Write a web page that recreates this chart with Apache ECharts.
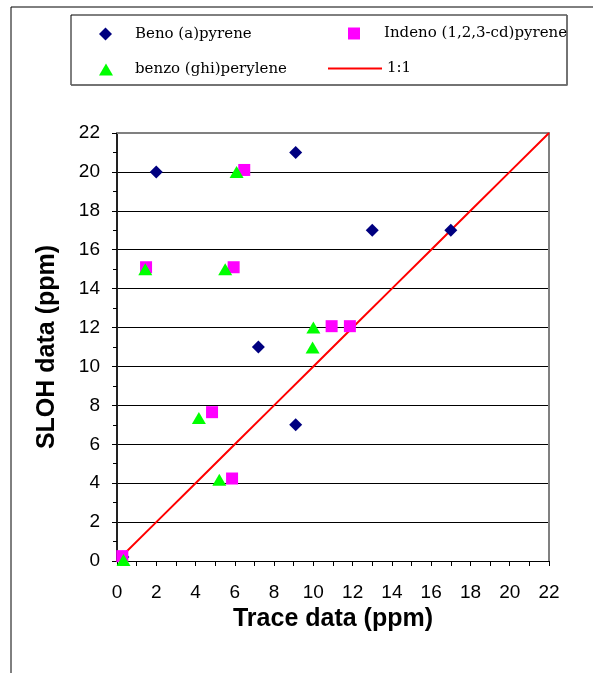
<!DOCTYPE html>
<html><head><meta charset="utf-8">
<script src="https://cdn.jsdelivr.net/npm/echarts@6/dist/echarts.min.js"></script>
<style>html,body{margin:0;padding:0;background:#fff}#c{width:593px;height:673px}</style>
</head><body><div id="c"></div>
<script>
// Data
const benoName = 'Beno (a)pyrene';
const indenoName = 'Indeno (1,2,3-cd)pyrene';
const benzoName = 'benzo (ghi)perylene';
const lineName = '1:1';

const benoX = [0.3, 2, 9.1, 7.2, 9.1, 13, 17];
const benoY = [0.2, 20, 21, 11, 7, 17, 17];

const indenoX = [0.27, 1.48, 6.48, 5.94, 4.84, 5.86, 10.93, 11.86];
const indenoY = [0.25, 15.1, 20.1, 15.1, 7.65, 4.24, 12.07, 12.07];

const benzoX = [0.33, 1.44, 6.09, 5.51, 10, 9.96, 4.17, 5.21];
const benzoY = [0.05, 15, 20, 15, 12, 10.97, 7.35, 4.17];

const lineX = [0, 2, 4, 6, 8, 10, 12, 14, 16, 18, 20, 22];
const lineY = [0, 2, 4, 6, 8, 10, 12, 14, 16, 18, 20, 22];

const axisMin = 0, axisMax = 22, axisStep = 2;

const zip = (xs, ys) => xs.map((x, i) => [x, ys[i]]);

const chart = echarts.init(document.getElementById('c'), null, {renderer: 'canvas'});

const legendText = {fontFamily: 'DejaVu Serif', fontSize: 15, color: '#000'};
function mkLegend(name, left, top, w, h, padLeft, icon) {
  const item = icon ? {name: name, icon: icon} : name;
  return {
    data: [item], left: left, top: top, orient: 'horizontal',
    itemWidth: w, itemHeight: h, padding: 0, itemGap: 0,
    selectedMode: false,
    textStyle: Object.assign({}, legendText, {padding: [0, 0, 0, padLeft]})
  };
}

const baseAxis = {
  type: 'value', min: axisMin, max: axisMax, interval: axisStep,
  axisLine: {show: true, onZero: false, lineStyle: {color: '#000', width: 1}},
  axisTick: {show: true, inside: false, length: 5, lineStyle: {color: '#000'}},
  minorTick: {show: true, splitNumber: 2, length: 5, lineStyle: {color: '#000'}},
  axisLabel: {fontFamily: 'Liberation Sans', fontSize: 19, color: '#000'},
  nameLocation: 'middle',
  nameTextStyle: {fontFamily: 'Liberation Sans', fontSize: 25, fontWeight: 'bold', color: '#000'}
};
const borderAxis = {
  type: 'value', min: axisMin, max: axisMax, interval: axisStep,
  axisLine: {show: true, onZero: false, lineStyle: {color: '#808080', width: 2}},
  axisTick: {show: false}, axisLabel: {show: false}, splitLine: {show: false}
};

chart.setOption({
  animation: false,
  backgroundColor: '#fff',
  grid: {left: 117, top: 133, width: 432, height: 428},
  graphic: [
    {type: 'line', shape: {x1: 11, y1: 7, x2: 593, y2: 7}, style: {stroke: '#000', lineWidth: 1}},
    {type: 'line', shape: {x1: 11, y1: 7, x2: 11, y2: 673}, style: {stroke: '#000', lineWidth: 1}},
    {type: 'rect', shape: {x: 71, y: 15, width: 496, height: 70}, style: {fill: '#fff', stroke: '#000', lineWidth: 1}},
    {type: 'polyline', shape: {points: [[567, 15], [567, 85], [71, 85]]}, style: {stroke: '#707070', lineWidth: 1.5, fill: null}}
  ],
  legend: [
    mkLegend(benoName, 99, 26.5, 13, 13, 18),
    mkLegend(indenoName, 348, 26, 12, 12, 19),
    mkLegend(benzoName, 99, 62, 14, 12, 17),
    mkLegend(lineName, 328, 61, 54, 2, 0, 'rect')
  ],
  xAxis: [
    Object.assign({}, baseAxis, {
      position: 'bottom',
      splitLine: {show: false},
      axisLabel: Object.assign({}, baseAxis.axisLabel, {margin: 22}),
      name: 'Trace data (ppm)', nameGap: 43
    }),
    Object.assign({}, borderAxis, {position: 'top'})
  ],
  yAxis: [
    Object.assign({}, baseAxis, {
      position: 'left',
      axisLine: {show: true, onZero: false, lineStyle: {color: '#222', width: 2}},
      minorTick: {show: true, splitNumber: 2, length: 4, lineStyle: {color: '#000'}},
      splitLine: {show: true, lineStyle: {color: '#000', width: 1}},
      axisLabel: Object.assign({}, baseAxis.axisLabel, {margin: 17}),
      name: 'SLOH data (ppm)', nameGap: 57
    }),
    Object.assign({}, borderAxis, {position: 'right'})
  ],
  series: [
    {name: lineName, type: 'line', xAxisIndex: 0, yAxisIndex: 0, data: zip(lineX, lineY),
     symbol: 'none', lineStyle: {color: '#ff0000', width: 2}, itemStyle: {color: '#ff0000'}, z: 2},
    {name: benoName, type: 'scatter', data: zip(benoX, benoY), symbol: 'diamond', symbolSize: 13,
     itemStyle: {color: '#000080', opacity: 1}, z: 3},
    {name: indenoName, type: 'scatter', data: zip(indenoX, indenoY), symbol: 'rect', symbolSize: 12,
     itemStyle: {color: '#ff00ff', opacity: 1}, z: 4},
    {name: benzoName, type: 'scatter', data: zip(benzoX, benzoY), symbol: 'triangle', symbolSize: [14, 12],
     itemStyle: {color: '#00ff00', opacity: 1}, z: 5}
  ]
});
</script>
</body></html>
